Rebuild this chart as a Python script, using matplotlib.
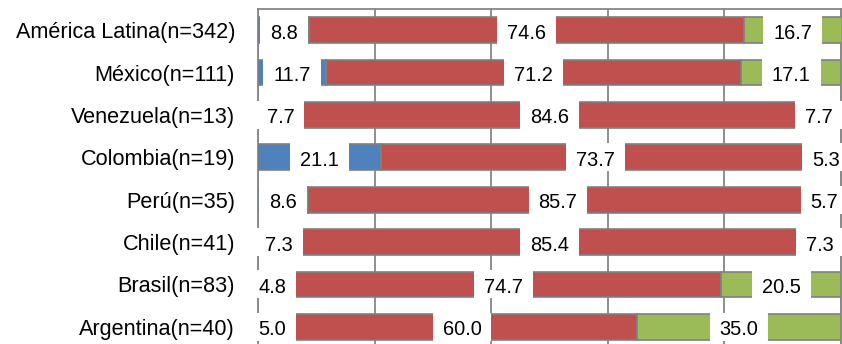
import matplotlib
matplotlib.use("Agg")
import matplotlib.pyplot as plt
import numpy as np
from matplotlib.path import Path
from matplotlib import transforms
from matplotlib import font_manager as fm

# ---- data ----
categories = ["América Latina(n=342)", "México(n=111)", "Venezuela(n=13)",
              "Colombia(n=19)", "Perú(n=35)", "Chile(n=41)", "Brasil(n=83)",
              "Argentina(n=40)"]
serie_azul = [8.8, 11.7, 7.7, 21.1, 8.6, 7.3, 4.8, 5.0]
serie_roja = [74.6, 71.2, 84.6, 73.7, 85.7, 85.4, 74.7, 60.0]
serie_verde = [16.7, 17.1, 7.7, 5.3, 5.7, 7.3, 20.5, 35.0]

colors = ["#4F81BD", "#C0504D", "#9BBB59"]
grid_color = "#868686"

names = {f.name for f in fm.fontManager.ttflist}
if "Liberation Sans Narrow" in names:
    cat_font, cat_size = "Liberation Sans Narrow", 18.5
else:
    cat_font, cat_size = "Liberation Sans", 15.6

W, H = 842, 344
fig = plt.figure(figsize=(W / 100, H / 100), dpi=100)
ax = fig.add_axes([258 / W, -4 / H, 583 / W, 339 / H])

y = np.arange(len(categories))
bar_h = 0.61
series = [serie_azul, serie_roja, serie_verde]
left = np.zeros(len(categories))
for vals, c in zip(series, colors):
    vals = np.array(vals)
    ax.barh(y, vals, left=left, height=bar_h, color=c, edgecolor="#808080",
            linewidth=1.2, zorder=2)
    left = left + vals

ax.set_xlim(0, 100)
ax.set_ylim(len(categories) - 0.5, -0.5)
ax.set_xticks(np.arange(0, 101, 20))
ax.set_xticklabels([])
ax.tick_params(axis="x", length=0)
ax.set_yticks(y)
ax.set_yticklabels(categories, fontfamily=cat_font, fontsize=cat_size)
ax.tick_params(axis="y", length=0, pad=16.5)
ax.grid(axis="x", color=grid_color, linewidth=1.3, zorder=0)
ax.set_axisbelow(True)
for s in ["left", "top", "right"]:
    ax.spines[s].set_color(grid_color)
    ax.spines[s].set_linewidth(1.3)
    ax.spines[s].set_zorder(1.5)
ax.spines["bottom"].set_visible(False)

# custom label box: horizontal pad, fixed height centred on the bar
PAD_X = 10.0
BOX_H = 28.0
SHIFT = 3.0  # text shifted down (pixels)


def label_box(x0, y0, width, height, mutation_size):
    cy = y0 + height / 2 + SHIFT
    l, r = x0 - PAD_X, x0 + width + PAD_X
    b, t = cy - BOX_H / 2, cy + BOX_H / 2
    return Path([(l, b), (r, b), (r, t), (l, t), (l, b)],
                [Path.MOVETO, Path.LINETO, Path.LINETO, Path.LINETO, Path.CLOSEPOLY])


trans = transforms.offset_copy(ax.transData, fig=fig, x=0, y=-SHIFT, units="dots")
left = np.zeros(len(categories))
for vals in series:
    vals = np.array(vals)
    centers = left + vals / 2
    for yi, cx, v in zip(y, centers, vals):
        ax.text(cx, yi, f"{v:.1f}", transform=trans, ha="center", va="center",
                fontsize=14.4, fontfamily="Liberation Sans", color="black",
                bbox=dict(boxstyle=label_box, facecolor="white", edgecolor="none"),
                zorder=4)
    left = left + vals

fig.savefig("out.png", dpi=100)
